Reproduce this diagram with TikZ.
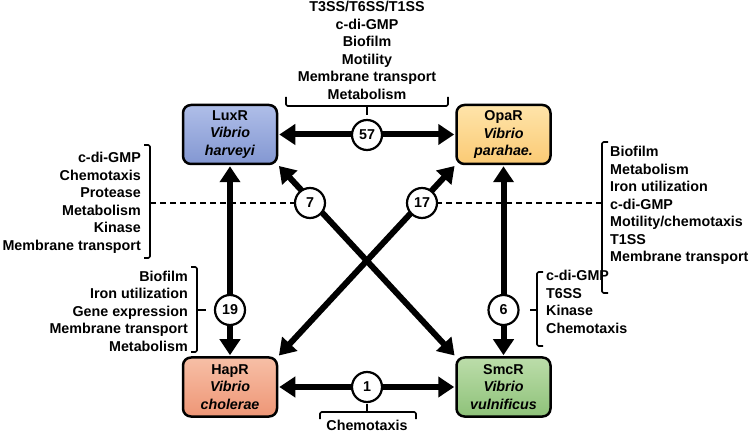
\documentclass[tikz,border=0pt]{standalone}
\usepackage{fontspec}
\setmainfont{Liberation Sans}
\usetikzlibrary{arrows.meta}

\newcommand{\genefont}{\fontsize{14.3bp}{17.5bp}\selectfont\bfseries}

\begin{document}
\begin{tikzpicture}[x=1bp,y=-1bp,line join=round]
  \tikzset{
    regbox/.style={draw, line width=2.5bp, rounded corners=8bp, minimum width=94bp,
      minimum height=59bp, align=center, inner sep=0pt, font=\genefont},
    link/.style={line width=6bp, {Triangle[length=16bp,width=20bp]}-{Triangle[length=16bp,width=20bp]},
      shorten <=1bp, shorten >=1bp},
    count/.style={circle, draw, fill=white, line width=2.2bp, minimum size=30bp,
      inner sep=0pt, font=\genefont},
    bracket/.style={line width=1.6bp, rounded corners=1.5bp},
    dashline/.style={line width=1.6bp, dash pattern=on 6bp off 4bp},
    genes/.style={inner sep=0pt, font=\genefont}
  }
  \definecolor{luxtop}{HTML}{AFBEE8}
  \definecolor{luxbot}{HTML}{8397D2}
  \definecolor{opatop}{HTML}{FEE4AA}
  \definecolor{opabot}{HTML}{FBCA74}
  \definecolor{haptop}{HTML}{F7BFA6}
  \definecolor{hapbot}{HTML}{EE9676}
  \definecolor{smctop}{HTML}{BCDDAA}
  \definecolor{smcbot}{HTML}{8EC279}

  \useasboundingbox (0,0) rectangle (750,434);

  % Regulators
  \node[regbox, top color=luxtop, bottom color=luxbot] (lux) at (230,134.5)
    {LuxR\\\textit{Vibrio}\\\textit{harveyi}};
  \node[regbox, top color=opatop, bottom color=opabot] (opa) at (503.5,134.5)
    {OpaR\\\textit{Vibrio}\\\textit{parahae.}};
  \node[regbox, top color=haptop, bottom color=hapbot] (hap) at (230,387)
    {HapR\\\textit{Vibrio}\\\textit{cholerae}};
  \node[regbox, top color=smctop, bottom color=smcbot] (smc) at (503.5,387)
    {SmcR\\\textit{Vibrio}\\\textit{vulnificus}};

  % Shared regulon arrows
  \draw[link] (lux) -- (opa);
  \draw[link] (hap) -- (smc);
  \draw[link] (lux) -- (hap);
  \draw[link] (opa) -- (smc);
  \draw[link] (lux.south east) -- (smc.north west);
  \draw[link] (opa.south west) -- (hap.north east);

  % Overlap counts
  \node[count] (c57) at (367,135) {57};
  \node[count] (c1) at (367,387) {1};
  \node[count] (c19) at (230,310) {19};
  \node[count] (c6) at (503.5,310) {6};
  \node[count] (c7) at (310,203) {7};
  \node[count] (c17) at (422,203) {17};

  % Top list
  \node[genes, align=center] (topgenes) at (367,50.5)
    {T3SS/T6SS/T1SS\\c-di-GMP\\Biofilm\\Motility\\Membrane transport\\Metabolism};
  \draw[bracket] (286,97) -- (286,106) -- (448,106) -- (448,97);
  \draw[bracket] (367,106) -- (367,115);

  % LuxR / SmcR list
  \node[genes, align=right, anchor=east] (luxgenes) at (141,203)
    {c-di-GMP\\Chemotaxis\\Protease\\Metabolism\\Kinase\\Membrane transport};
  \draw[bracket] (144,145) -- (150,145) -- (150,258) -- (144,258);
  \coordinate (luxtick) at (150,203);
  \draw[dashline] (luxtick) -- (c7);

  % LuxR / HapR list
  \node[genes, align=right, anchor=east] (hapgenes) at (188,311)
    {Biofilm\\Iron utilization\\Gene expression\\Membrane transport\\Metabolism};
  \draw[bracket] (191,267) -- (197,267) -- (197,352) -- (191,352);
  \draw[bracket] (197,310) -- (206,310);

  % OpaR / HapR list
  \node[genes, align=left, anchor=west] (opagenes) at (610,205.5)
    {Biofilm\\Metabolism\\Iron utilization\\c-di-GMP\\Motility/chemotaxis\\T1SS\\Membrane transport};
  \draw[bracket] (608,142) -- (602,142) -- (602,293) -- (608,293);
  \coordinate (opatick) at (602,203);
  \draw[dashline] (opatick) -- (c17);

  % OpaR / SmcR list
  \node[genes, align=left, anchor=west] (smcgenes) at (546,302)
    {c-di-GMP\\T6SS\\Kinase\\Chemotaxis};
  \draw[bracket] (543,272) -- (537,272) -- (537,346) -- (543,346);
  \draw[bracket] (537,310) -- (530,310);

  % Bottom list
  \draw[bracket] (367,404) -- (367,412);
  \draw[bracket] (320,419) -- (320,412) -- (416,412) -- (416,419);
  \node[genes] (botgenes) at (367,425.5) {Chemotaxis};
\end{tikzpicture}
\end{document}
